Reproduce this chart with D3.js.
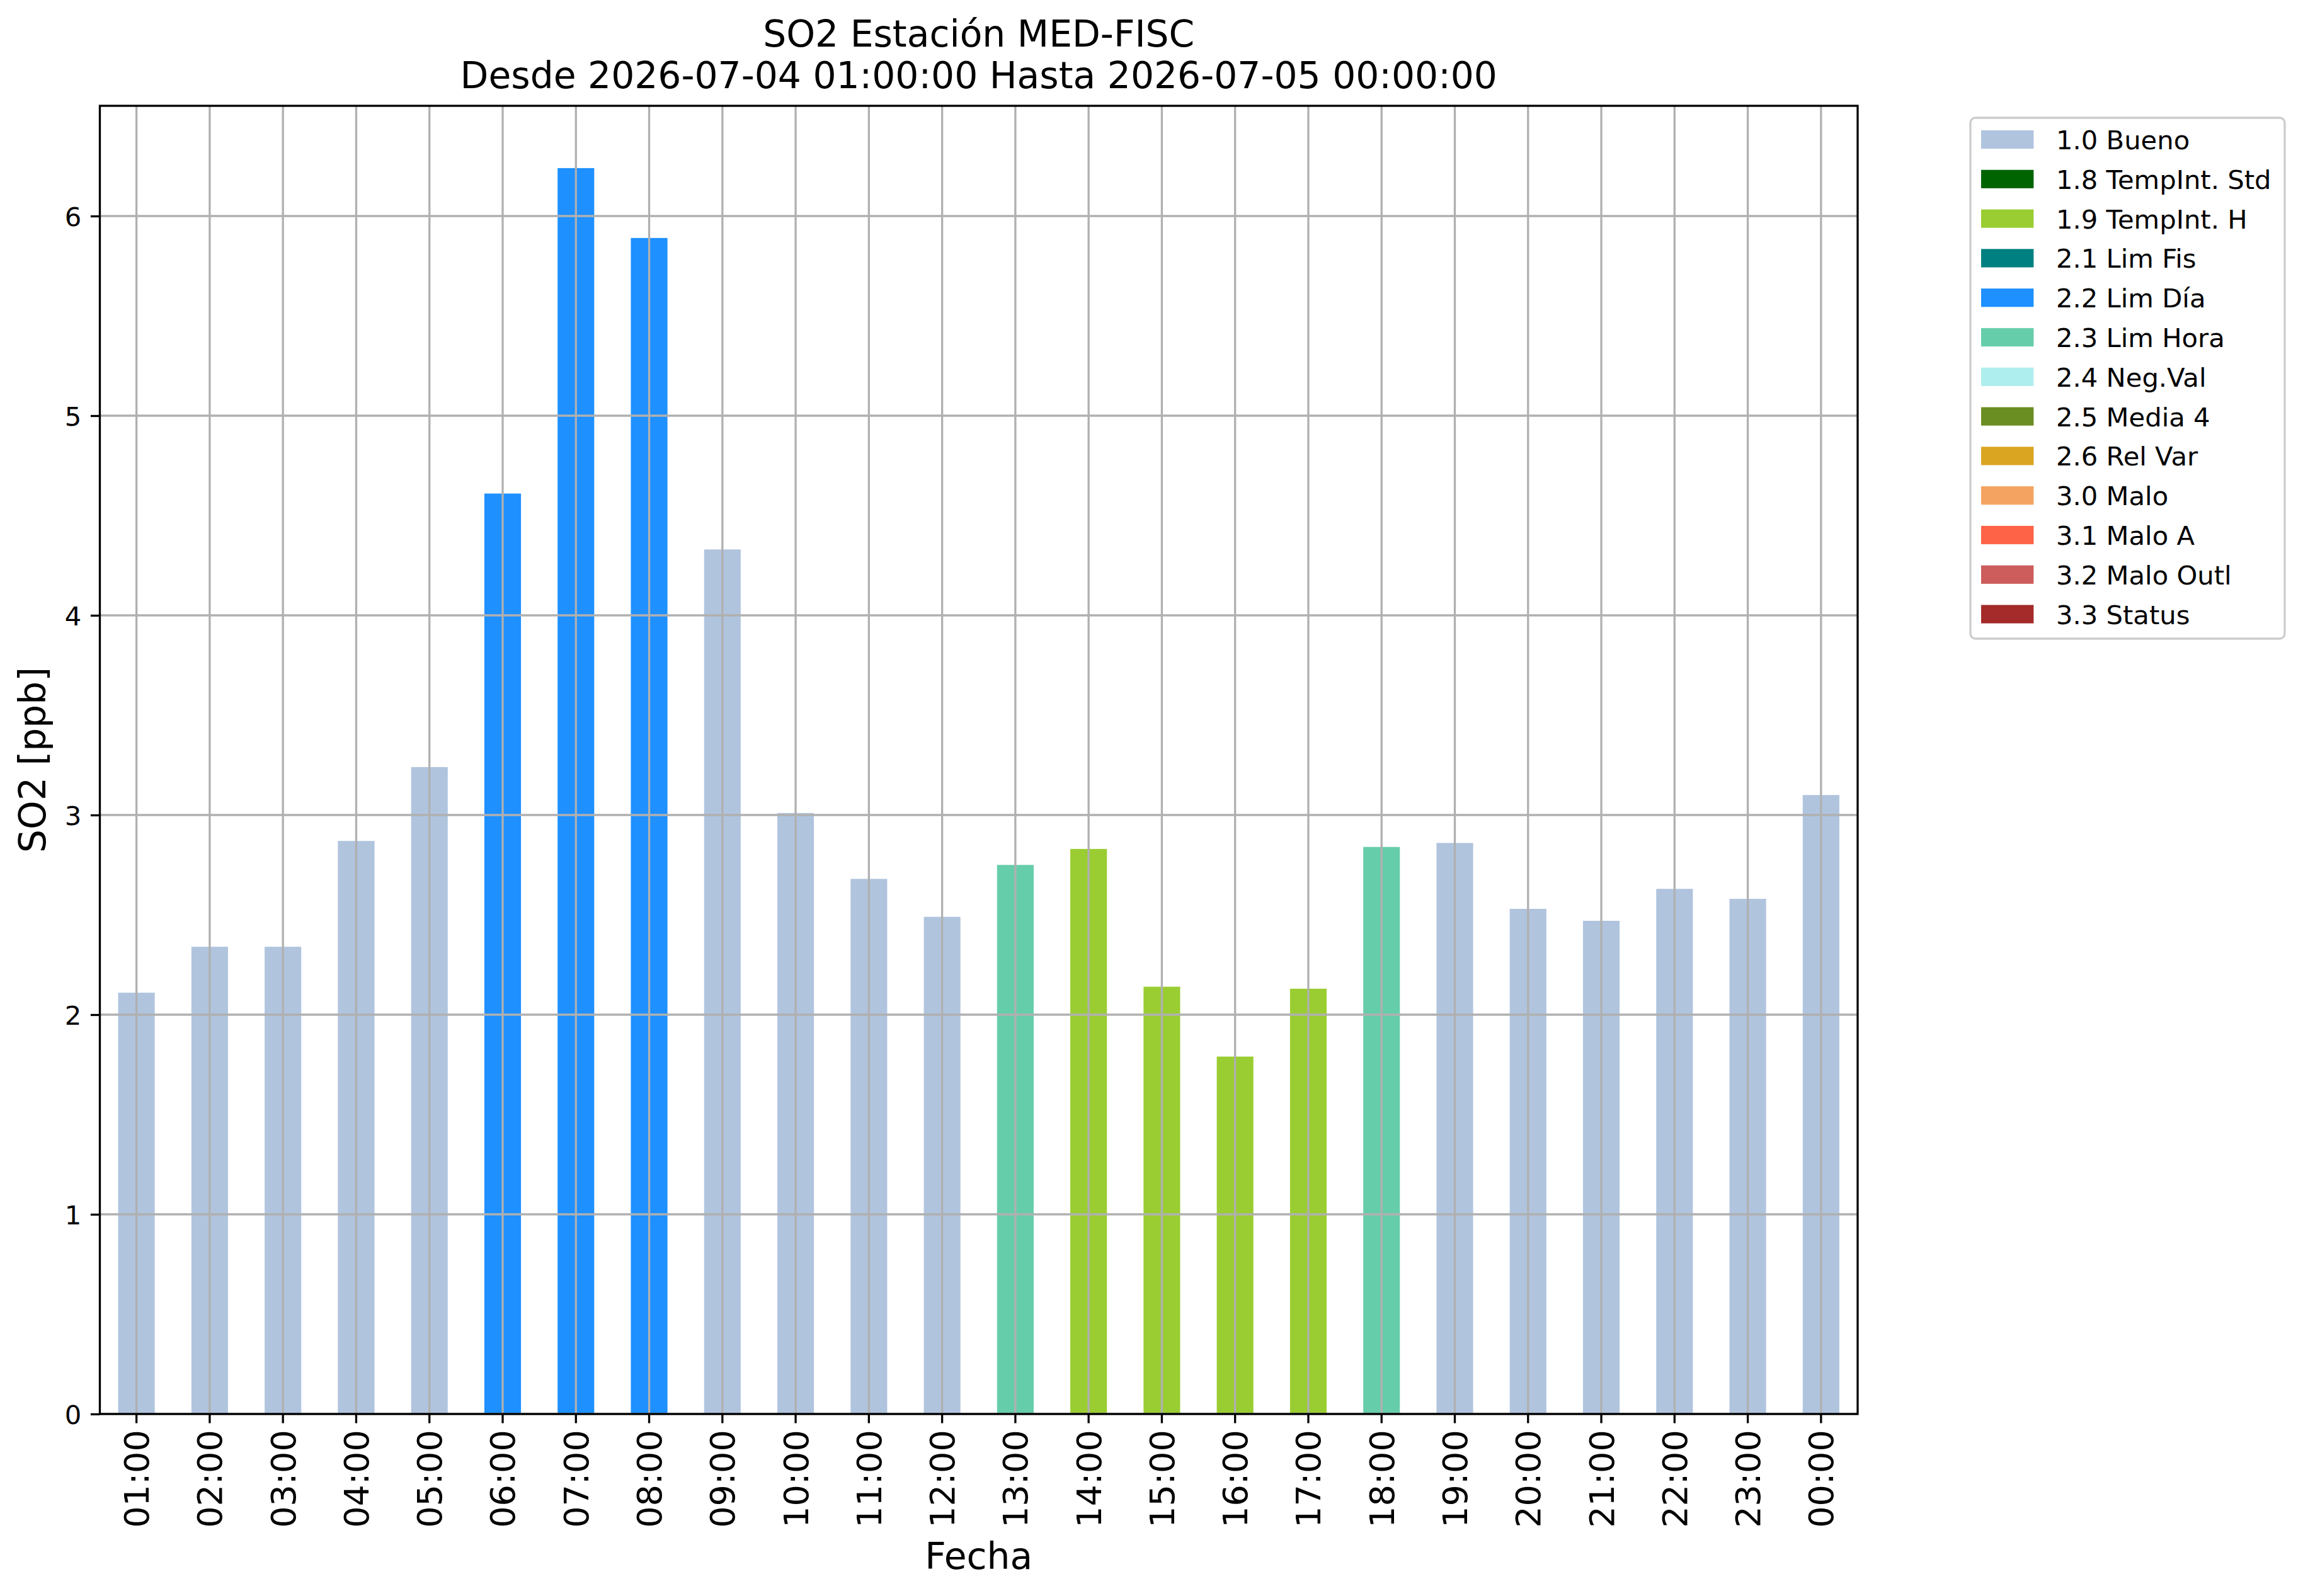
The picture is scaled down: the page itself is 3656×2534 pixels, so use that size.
<!DOCTYPE html>
<html>
<head>
<meta charset="utf-8">
<script src="https://cdn.jsdelivr.net/npm/d3@7"></script>
<style>
  html, body { margin: 0; padding: 0; background: #ffffff; }
  svg { display: block; }
  text { font-family: "DejaVu Sans", sans-serif; fill: #000; }
</style>
</head>
<body>
<svg id="chart" width="3656" height="2534"></svg>
<script>
// ---------------- data ----------------
const hours = ["01:00","02:00","03:00","04:00","05:00","06:00","07:00","08:00",
               "09:00","10:00","11:00","12:00","13:00","14:00","15:00","16:00",
               "17:00","18:00","19:00","20:00","21:00","22:00","23:00","00:00"];
const so2Values = [2.11, 2.34, 2.34, 2.87, 3.24, 4.61, 6.24, 5.89,
                   4.33, 3.01, 2.68, 2.49, 2.75, 2.83, 2.14, 1.79,
                   2.13, 2.84, 2.86, 2.53, 2.47, 2.63, 2.58, 3.10];
const flags = ["1.0 Bueno","1.0 Bueno","1.0 Bueno","1.0 Bueno","1.0 Bueno",
               "2.2 Lim Día","2.2 Lim Día","2.2 Lim Día",
               "1.0 Bueno","1.0 Bueno","1.0 Bueno","1.0 Bueno",
               "2.3 Lim Hora","1.9 TempInt. H","1.9 TempInt. H","1.9 TempInt. H","1.9 TempInt. H",
               "2.3 Lim Hora",
               "1.0 Bueno","1.0 Bueno","1.0 Bueno","1.0 Bueno","1.0 Bueno","1.0 Bueno"];
const legendLabels = ["1.0 Bueno","1.8 TempInt. Std","1.9 TempInt. H","2.1 Lim Fis",
                      "2.2 Lim Día","2.3 Lim Hora","2.4 Neg.Val","2.5 Media 4",
                      "2.6 Rel Var","3.0 Malo","3.1 Malo A","3.2 Malo Outl","3.3 Status"];
const legendColors = ["#b0c4de","#006400","#9acd32","#008080",
                      "#1e90ff","#66cdaa","#afeeee","#6b8e23",
                      "#daa520","#f4a460","#ff6347","#cd5c5c","#a52a2a"];
const yTicks = [0, 1, 2, 3, 4, 5, 6];
const titleLines = ["SO2 Estación MED-FISC", "Desde 2026-07-04 01:00:00 Hasta 2026-07-05 00:00:00"];
const xLabel = "Fecha";
const yLabel = "SO2 [ppb]";

// ---------------- layout ----------------
const L = 158.5, R = 2949, T = 168, B = 2245;
const gridColor = "#b0b0b0";
const lw = 3.3;

const svg = d3.select("#chart");
svg.append("rect").attr("width", 3656).attr("height", 2534).attr("fill", "#fff");

const colorScale = d3.scaleOrdinal().domain(legendLabels).range(legendColors);

const x = d3.scaleBand().domain(hours).range([L, R]).paddingInner(0.5).paddingOuter(0.25);
const yMax = d3.max(so2Values) * 1.05;
const y = d3.scaleLinear().domain([0, yMax]).range([B, T]);

const data = hours.map((h, i) => ({ h, v: so2Values[i], f: flags[i] }));

// bars
svg.append("g").selectAll("rect").data(data).join("rect")
  .attr("x", d => x(d.h))
  .attr("width", x.bandwidth())
  .attr("y", d => y(d.v))
  .attr("height", d => y(0) - y(d.v))
  .attr("fill", d => colorScale(d.f));

// grid (drawn over bars as in reference)
const grid = svg.append("g");
grid.selectAll("line.v").data(hours).join("line").attr("class", "v")
  .attr("x1", d => x(d) + x.bandwidth() / 2).attr("x2", d => x(d) + x.bandwidth() / 2)
  .attr("y1", T).attr("y2", B)
  .attr("stroke", gridColor).attr("stroke-width", lw);
grid.selectAll("line.h").data(yTicks).join("line").attr("class", "h")
  .attr("x1", L).attr("x2", R)
  .attr("y1", d => y(d)).attr("y2", d => y(d))
  .attr("stroke", gridColor).attr("stroke-width", lw);

// axes
const tickLen = 14.6, pad = 14.6;
const xAxis = d3.axisBottom(x).tickSize(tickLen).tickPadding(pad);
const gx = svg.append("g").attr("transform", `translate(0,${B})`).call(xAxis);
gx.select(".domain").remove();
gx.selectAll(".tick line").attr("stroke", "#000").attr("stroke-width", lw);
gx.selectAll(".tick text")
  .attr("font-size", 54)
  .attr("text-anchor", "end")
  .attr("transform", "rotate(-90)")
  .attr("x", -(tickLen + pad - 4))
  .attr("y", 0)
  .attr("dy", "0.36em");

const yAxis = d3.axisLeft(y).tickValues(yTicks).tickFormat(d3.format("d")).tickSize(tickLen).tickPadding(pad);
const gy = svg.append("g").attr("transform", `translate(${L},0)`).call(yAxis);
gy.select(".domain").remove();
gy.selectAll(".tick line").attr("stroke", "#000").attr("stroke-width", lw);
gy.selectAll(".tick text").attr("font-size", 41.7).attr("dy", "0.36em");

// spines
svg.append("rect").attr("x", L).attr("y", T).attr("width", R - L).attr("height", B - T)
  .attr("fill", "none").attr("stroke", "#000").attr("stroke-width", lw);

// titles & labels
svg.append("text").attr("x", (L + R) / 2).attr("y", 74).attr("text-anchor", "middle")
  .attr("font-size", 58.3).text(titleLines[0]);
svg.append("text").attr("x", (L + R) / 2).attr("y", 140).attr("text-anchor", "middle")
  .attr("font-size", 58.3).text(titleLines[1]);
svg.append("text").attr("x", (L + R) / 2).attr("y", 2491).attr("text-anchor", "middle")
  .attr("font-size", 58.3).text(xLabel);
svg.append("text").attr("transform", `translate(72,${(T + B) / 2}) rotate(-90)`)
  .attr("text-anchor", "middle").attr("font-size", 58.3).text(yLabel);

// legend
const lgX = 3128, lgY = 187, lgW = 499, lgH = 827;
const lg = svg.append("g");
lg.append("rect").attr("x", lgX).attr("y", lgY).attr("width", lgW).attr("height", lgH)
  .attr("rx", 8).attr("ry", 8).attr("fill", "#fff").attr("fill-opacity", 0.8)
  .attr("stroke", "#cccccc").attr("stroke-width", lw);
const rowH = 62.8, firstC = 221.5;
const items = lg.selectAll("g.item").data(legendLabels).join("g").attr("class", "item")
  .attr("transform", (d, i) => `translate(0,${firstC + i * rowH})`);
items.append("rect").attr("x", 3145).attr("y", -14.6).attr("width", 83.4).attr("height", 29.2)
  .attr("fill", d => colorScale(d));
items.append("text").attr("x", 3264).attr("y", 0).attr("dy", "0.37em")
  .attr("font-size", 41.7).text(d => d);
</script>
</body>
</html>
